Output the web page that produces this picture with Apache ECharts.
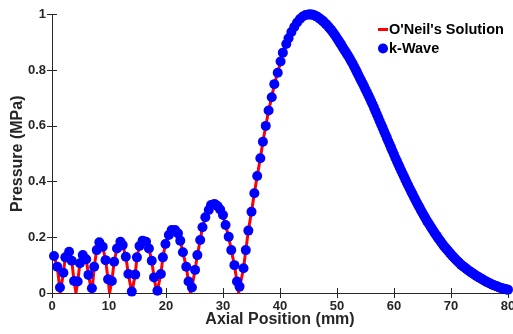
<!DOCTYPE html>
<html>
<head>
<meta charset="utf-8">
<script src="https://cdn.jsdelivr.net/npm/echarts@6/dist/echarts.min.js"></script>
<style>
html,body{margin:0;padding:0;background:#fff;}
#chart{width:513px;height:334px;}
</style>
</head>
<body>
<div id="chart"></div>
<script>
// Axis ticks
const xTicks = [0, 10, 20, 30, 40, 50, 60, 70, 80];
const yTicks = [0, 0.2, 0.4, 0.6, 0.8, 1];

// O'Neil's analytical solution (red line)
const oneilX = [0, 0.35, 0.93, 1.45, 2.0, 2.34, 3.0, 3.46, 3.87, 4.2, 4.5, 4.9, 5.4, 6.0, 6.4, 7.0, 7.4, 7.85, 8.3, 8.9, 9.4, 9.84, 10.1, 10.5, 10.9, 11.4, 12.0, 12.4, 12.95, 13.4, 14.0, 14.6, 14.9, 15.35, 15.9, 16.5, 17.0, 17.5, 17.9, 18.4, 19.1, 19.45, 19.9, 20.5, 21.0, 21.6, 22.1, 22.5, 22.97, 23.55, 23.95, 24.3, 24.55, 25.1, 25.5, 26.0, 26.4, 26.9, 27.5, 27.9, 28.5, 29.05, 29.5, 30.0, 30.45, 31.0, 31.45, 32.0, 32.45, 32.75, 33.0, 33.6, 34.0, 34.45, 35.0, 35.5, 36.0, 36.55, 37.0, 37.5, 38.0, 38.55, 39.0, 39.6, 40.1, 40.5, 41.1, 41.5, 42, 43, 44, 45, 46, 47, 48, 49, 50, 51, 52, 53, 54, 55, 56, 57, 58, 59, 60, 61, 62, 63, 64, 65, 66, 67, 68, 69, 70, 71, 72, 73, 74, 75, 76, 77, 78, 79, 80];
const oneilY = [0.12, 0.133, 0.094, 0.0, 0.073, 0.128, 0.148, 0.116, 0.043, 0.0, 0.041, 0.107, 0.136, 0.121, 0.065, 0.0, 0.094, 0.154, 0.182, 0.166, 0.118, 0.049, 0.0, 0.043, 0.112, 0.160, 0.184, 0.172, 0.130, 0.068, 0.0, 0.066, 0.128, 0.169, 0.188, 0.184, 0.160, 0.116, 0.056, 0.0, 0.068, 0.128, 0.176, 0.208, 0.226, 0.226, 0.214, 0.188, 0.146, 0.094, 0.041, 0.0, 0.020, 0.083, 0.136, 0.190, 0.236, 0.272, 0.298, 0.316, 0.320, 0.312, 0.300, 0.280, 0.244, 0.202, 0.154, 0.100, 0.041, 0.0, 0.028, 0.089, 0.154, 0.224, 0.292, 0.358, 0.420, 0.484, 0.543, 0.600, 0.655, 0.703, 0.750, 0.791, 0.831, 0.863, 0.894, 0.915, 0.937, 0.971, 0.993, 1.0, 0.997, 0.985, 0.967, 0.944, 0.915, 0.882, 0.850, 0.813, 0.772, 0.731, 0.688, 0.641, 0.593, 0.545, 0.497, 0.451, 0.407, 0.365, 0.325, 0.287, 0.252, 0.220, 0.190, 0.163, 0.139, 0.117, 0.098, 0.082, 0.068, 0.055, 0.043, 0.033, 0.024, 0.017, 0.012];

// k-Wave simulation points (blue dots)
const kwaveX = [0.35, 0.93, 1.4, 2.0, 2.34, 3.0, 3.46, 3.87, 4.5, 4.9, 5.4, 6.0, 6.4, 7.0, 7.4, 7.85, 8.3, 8.9, 9.4, 9.84, 10.5, 10.9, 11.4, 12.0, 12.4, 12.95, 13.4, 14.0, 14.6, 14.9, 15.35, 15.9, 16.5, 17.0, 17.5, 17.9, 18.5, 19.1, 19.45, 19.9, 20.5, 21.0, 21.6, 22.1, 22.5, 22.97, 23.55, 23.95, 24.55, 25.1, 25.5, 26.0, 26.4, 26.9, 27.5, 27.9, 28.5, 29.05, 29.5, 30.0, 30.45, 31.0, 31.45, 32.0, 32.45, 32.9, 33.6, 34.0, 34.45, 35.0, 35.5, 36.0, 36.55, 37.0, 37.5, 38.0, 38.55, 39.0, 39.6, 40.1, 40.5, 41.1, 41.5, 42, 42.5, 43, 43.5, 44, 44.5, 45,
  45.25, 45.5, 45.75, 46, 46.25, 46.5, 46.75, 47, 47.25, 47.5, 47.75, 48, 48.25, 48.5, 48.75, 49, 49.25, 49.5, 49.75, 50, 50.25, 50.5, 50.75, 51, 51.25, 51.5, 51.75, 52, 52.25, 52.5, 52.75, 53, 53.25, 53.5, 53.75, 54, 54.25, 54.5, 54.75, 55, 55.25, 55.5, 55.75, 56, 56.25, 56.5, 56.75, 57, 57.25, 57.5, 57.75, 58, 58.25, 58.5, 58.75, 59, 59.25, 59.5, 59.75, 60, 60.25, 60.5, 60.75, 61, 61.25, 61.5, 61.75, 62, 62.25, 62.5, 62.75, 63, 63.25, 63.5, 63.75, 64, 64.25, 64.5, 64.75, 65, 65.25, 65.5, 65.75, 66, 66.25, 66.5, 66.75, 67, 67.25, 67.5, 67.75, 68, 68.25, 68.5, 68.75, 69, 69.25, 69.5, 69.75, 70, 70.25, 70.5, 70.75, 71, 71.25, 71.5, 71.75, 72, 72.25, 72.5, 72.75, 73, 73.25, 73.5, 73.75, 74, 74.25, 74.5, 74.75, 75, 75.25, 75.5, 75.75, 76, 76.25, 76.5, 76.75, 77, 77.25, 77.5, 77.75, 78, 78.25, 78.5, 78.75, 79, 79.25, 79.5, 79.75, 80];
const kwaveY = [0.133, 0.094, 0.020, 0.073, 0.128, 0.148, 0.116, 0.043, 0.041, 0.107, 0.136, 0.121, 0.065, 0.017, 0.094, 0.154, 0.182, 0.166, 0.118, 0.049, 0.043, 0.112, 0.160, 0.184, 0.172, 0.130, 0.068, 0.005, 0.066, 0.128, 0.169, 0.188, 0.184, 0.160, 0.116, 0.056, 0.008, 0.068, 0.128, 0.176, 0.208, 0.226, 0.226, 0.214, 0.188, 0.146, 0.094, 0.041, 0.020, 0.083, 0.136, 0.190, 0.236, 0.272, 0.298, 0.316, 0.320, 0.312, 0.300, 0.280, 0.244, 0.202, 0.154, 0.100, 0.041, 0.023, 0.089, 0.154, 0.224, 0.292, 0.358, 0.420, 0.484, 0.543, 0.600, 0.655, 0.703, 0.750, 0.791, 0.831, 0.863, 0.894, 0.915, 0.937, 0.955, 0.971, 0.984, 0.993, 0.998, 1.0,
  1.0, 1.0, 0.999, 0.997, 0.995, 0.992, 0.989, 0.985, 0.981, 0.977, 0.972, 0.967, 0.962, 0.956, 0.950, 0.944, 0.937, 0.930, 0.923, 0.915, 0.907, 0.899, 0.891, 0.882, 0.874, 0.866, 0.858, 0.850, 0.841, 0.832, 0.823, 0.813, 0.803, 0.793, 0.783, 0.772, 0.762, 0.752, 0.742, 0.731, 0.721, 0.710, 0.699, 0.688, 0.677, 0.665, 0.653, 0.641, 0.629, 0.617, 0.605, 0.593, 0.581, 0.569, 0.557, 0.545, 0.533, 0.521, 0.509, 0.497, 0.485, 0.474, 0.462, 0.451, 0.440, 0.429, 0.418, 0.407, 0.396, 0.386, 0.375, 0.365, 0.355, 0.345, 0.335, 0.325, 0.315, 0.306, 0.296, 0.287, 0.278, 0.269, 0.260, 0.252, 0.244, 0.236, 0.228, 0.220, 0.212, 0.205, 0.197, 0.190, 0.183, 0.176, 0.169, 0.163, 0.157, 0.151, 0.145, 0.139, 0.133, 0.128, 0.122, 0.117, 0.112, 0.107, 0.102, 0.098, 0.094, 0.090, 0.086, 0.082, 0.078, 0.075, 0.071, 0.068, 0.064, 0.061, 0.058, 0.055, 0.052, 0.049, 0.046, 0.043, 0.040, 0.038, 0.035, 0.033, 0.030, 0.028, 0.026, 0.024, 0.022, 0.020, 0.018, 0.017, 0.015, 0.014, 0.013, 0.012];

const seriesNames = ["O'Neil's Solution", "k-Wave"];

const chart = echarts.init(document.getElementById('chart'), null, {renderer: 'canvas'});
const axisColor = '#262626';
const font = 'Liberation Sans, Arial, Helvetica, sans-serif';

const oneilData = oneilX.map((x, i) => [x, oneilY[i]]);
const kwaveData = kwaveX.map((x, i) => [x, kwaveY[i]]);

chart.setOption({
  animation: false,
  backgroundColor: '#ffffff',
  grid: {left: 52, right: 5, top: 14.5, bottom: 41, containLabel: false, outerBoundsMode: 'none'},
  legend: {
    orient: 'vertical',
    left: 373,
    top: 17,
    itemGap: 4,
    itemWidth: 10,
    itemHeight: 10,
    textStyle: {fontFamily: font, fontWeight: 'bold', fontSize: 14.5, color: '#000', padding: [0, 0, 0, -4]},
    data: [
      {name: seriesNames[0], icon: 'path://M0,0H10V3H0Z', itemStyle: {color: '#ff0000'}},
      {name: seriesNames[1], icon: 'circle', itemStyle: {color: '#0000ff'}}
    ]
  },
  xAxis: [{
    type: 'value', min: xTicks[0], max: xTicks[xTicks.length - 1], interval: 10,
    name: 'Axial Position (mm)', nameLocation: 'middle', nameGap: 19, nameMoveOverlap: false,
    nameTextStyle: {fontFamily: font, fontWeight: 'bold', fontSize: 16, color: '#262626'},
    axisLine: {show: true, lineStyle: {color: axisColor, width: 1}},
    axisTick: {show: true, inside: true, length: 5, lineStyle: {color: axisColor}},
    axisLabel: {fontFamily: font, fontWeight: 'bold', fontSize: 13, color: '#262626', margin: 7},
    splitLine: {show: false}
  }, {
    type: 'value', position: 'top', min: xTicks[0], max: xTicks[xTicks.length - 1], interval: 10,
    axisLine: {show: true, lineStyle: {color: axisColor, width: 1}},
    axisTick: {show: true, inside: true, length: 5, lineStyle: {color: axisColor}},
    axisLabel: {show: false}, splitLine: {show: false}
  }],
  yAxis: [{
    type: 'value', min: yTicks[0], max: yTicks[yTicks.length - 1], interval: 0.2,
    name: 'Pressure (MPa)', nameLocation: 'middle', nameGap: 26, nameMoveOverlap: false,
    nameTextStyle: {fontFamily: font, fontWeight: 'bold', fontSize: 16, color: '#262626'},
    axisLine: {show: true, lineStyle: {color: axisColor, width: 1}},
    axisTick: {show: true, inside: true, length: 5, lineStyle: {color: axisColor}},
    axisLabel: {fontFamily: font, fontWeight: 'bold', fontSize: 13, color: '#262626', margin: 6},
    splitLine: {show: false}
  }, {
    type: 'value', position: 'right', min: yTicks[0], max: yTicks[yTicks.length - 1], interval: 0.2,
    axisLine: {show: true, lineStyle: {color: axisColor, width: 1}},
    axisTick: {show: true, inside: true, length: 5, lineStyle: {color: axisColor}},
    axisLabel: {show: false}, splitLine: {show: false}
  }],
  series: [{
    name: seriesNames[0], type: 'line', data: oneilData, showSymbol: false, symbol: 'none',
    lineStyle: {color: '#ff0000', width: 3}, itemStyle: {color: '#ff0000'}, z: 2, clip: false
  }, {
    name: seriesNames[1], type: 'scatter', data: kwaveData, symbol: 'circle', symbolSize: 10,
    itemStyle: {color: '#0000ff', opacity: 1}, z: 3, clip: false
  }]
});
</script>
</body>
</html>
